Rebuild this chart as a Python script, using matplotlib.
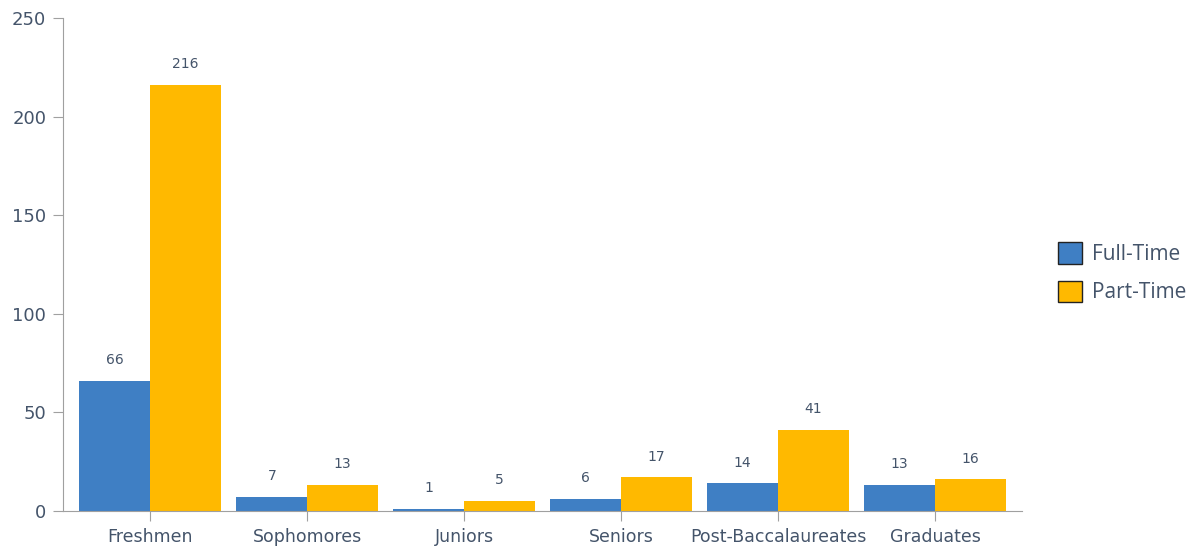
import numpy as np
from matplotlib import pyplot as plt

categories = ["Freshmen", "Sophomores", "Juniors", "Seniors", "Post-Baccalaureates", "Graduates"]
full_time = [66, 7, 1, 6, 14, 13]
part_time = [216, 13, 5, 17, 41, 16]

blue = "#3f7fc4"
yellow = "#ffb900"
text_c = "#44546a"
axis_c = "#a0a0a0"

fig = plt.figure(figsize=(11.95, 5.48), dpi=100)
ax = fig.add_axes([0.0527, 0.0675, 0.8026, 0.8995])

x = np.arange(len(categories))
w = 0.45
b1 = ax.bar(x - w / 2, full_time, w, color=blue, label="Full-Time")
b2 = ax.bar(x + w / 2, part_time, w, color=yellow, label="Part-Time")

for bars in (b1, b2):
  for bar in bars:
    h = bar.get_height()
    ax.annotate(str(int(h)), (bar.get_x() + bar.get_width() / 2, h),
                xytext=(0, 10), textcoords="offset points",
                ha="center", va="bottom", fontsize=10, color=text_c)

ax.set_xlim(-0.555, 5.555)
ax.set_ylim(0, 250)
ax.set_yticks([0, 50, 100, 150, 200, 250])
ax.set_xticks(x)
ax.set_xticklabels(categories)

for s in ("top", "right"):
  ax.spines[s].set_visible(False)
for s in ("left", "bottom"):
  ax.spines[s].set_color(axis_c)
ax.tick_params(colors=text_c, labelsize=13)
ax.tick_params(axis="both", color=axis_c, length=7)
ax.tick_params(axis="x", pad=5, labelsize=12.5)
ax.tick_params(axis="y", pad=5)

leg = ax.legend(loc="center left", bbox_to_anchor=(1.0375, 0.483), frameon=False,
                fontsize=15, handlelength=1.15, handleheight=1.2,
                labelspacing=0.75, handletextpad=0.5,
                borderaxespad=0, borderpad=0)
for t in leg.get_texts():
  t.set_color(text_c)
  t.set_family("Open Sans")
for p in leg.get_patches():
  p.set_edgecolor("#222222")
  p.set_linewidth(1)

fig.savefig("out.png", dpi=100)
